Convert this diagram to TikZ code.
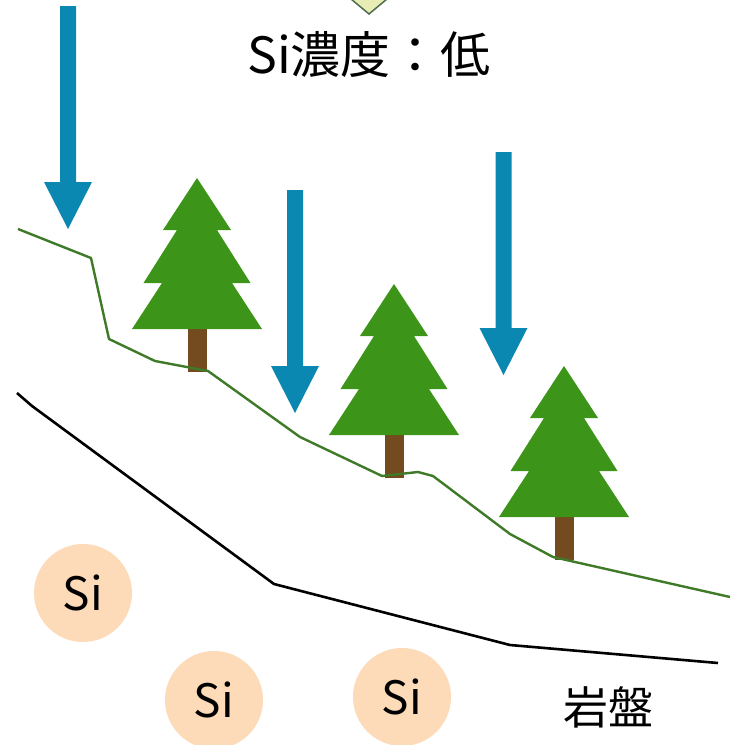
\documentclass[tikz,border=0pt]{standalone}
\usepackage{fontspec}
\setmainfont{Noto Sans CJK JP}
\definecolor{rainblue}{HTML}{0B88B1}
\definecolor{leafgreen}{HTML}{3C9418}
\definecolor{barkbrown}{HTML}{744A1F}
\definecolor{soilline}{HTML}{3E7A27}
\definecolor{sipeach}{HTML}{FDDBB9}
\definecolor{tipfill}{HTML}{E8EDB5}
\definecolor{tipedge}{HTML}{4E6E50}
\tikzset{
  conifer/.pic={
    \fill[barkbrown] (-9.5,150) rectangle (9.5,194);
    \fill[leafgreen] (0,0) -- (34,52) -- (20,52) -- (53.5,105) -- (35,105)
      -- (65,151) -- (-65,151) -- (-35,105) -- (-53.5,105) -- (-20,52)
      -- (-34,52) -- cycle;
  },
  rainarrow/.pic={
    % shaft length is passed through \rainlen
    \fill[rainblue] (-8,0) -- (8,0) -- (8,\rainlen) -- (24,\rainlen)
      -- (0,\rainlen+47) -- (-24,\rainlen) -- (-8,\rainlen) -- cycle;
  },
  silicon/.style={circle, fill=sipeach, minimum size=98pt, inner sep=0pt,
    font=\fontsize{46}{50}\selectfont},
  bigtext/.style={font=\fontsize{45}{50}\selectfont, inner sep=0pt},
  headtext/.style={font=\fontsize{50}{54}\selectfont, inner sep=0pt},
}
\begin{document}
\begin{tikzpicture}[x=1pt, y=-1pt]
\useasboundingbox (0,0) rectangle (736,745);

% tip of the shape above the heading
\fill[tipfill] (351,-1) -- (369,14) -- (387,-1) -- cycle;
\draw[tipedge, line width=1.5pt, line join=miter] (351,-1) -- (369,14) -- (387,-1);

\node[headtext] (title) at (369,55) {Si濃度：低};

% rain
\def\rainlen{176}
\pic at (68,6) {rainarrow};
\pic at (295,190) {rainarrow};
\pic at (503.5,152) {rainarrow};

% trees
\pic at (197,178) {conifer};
\pic at (394,284) {conifer};
\pic at (564,366) {conifer};

% ground surface
\draw[soilline, line width=2.4pt, line join=round]
  (18,229) -- (91,258) -- (109,339) -- (155,361) -- (208,371) -- (300,437)
  -- (382,476) -- (418,472) -- (433,476) -- (510,534) -- (553,557) -- (730,597);

% bedrock boundary
\draw[black, line width=2.6pt, line join=round]
  (17,393) -- (32,406) -- (274,584) -- (510,645) -- (718,663);

% dissolved silicon
\node[silicon] (si1) at (83,593) {Si};
\node[silicon] (si2) at (214,700) {Si};
\node[silicon] (si3) at (402,697) {Si};

\node[bigtext] (rock) at (608,707) {岩盤};
\end{tikzpicture}
\end{document}
